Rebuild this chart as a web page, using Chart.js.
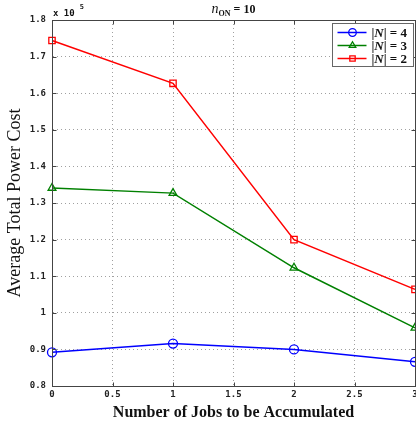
<!DOCTYPE html>
<html><head><meta charset="utf-8">
<script src="https://cdn.jsdelivr.net/npm/chart.js@4/dist/chart.umd.min.js"></script>
<style>html,body{margin:0;padding:0;background:#fff;overflow:hidden;}</style>
</head><body>
<canvas id="c" width="416" height="426" style="width:416px;height:426px;display:block"></canvas>
<script>
const jobs = [0, 1, 2, 3];
const costN4 = [0.892, 0.916, 0.900, 0.866];
const costN3 = [1.341, 1.327, 1.123, 0.959];
const costN2 = [1.744, 1.627, 1.200, 1.064];
const seriesLabels = ['|N| = 4', '|N| = 3', '|N| = 2'];
const seriesColors = ['#0000ff', '#008000', '#ff0000'];
const seriesMarkers = ['circle', 'triangle', 'rect'];
const xTicks = [0, 0.5, 1, 1.5, 2, 2.5, 3];
const yTicks = [0.8, 0.9, 1.0, 1.1, 1.2, 1.3, 1.4, 1.5, 1.6, 1.7, 1.8];
const titleParts = ['n', 'ON', ' = 10'];
const exponentParts = ['x 10', '5'];
const xTitle = 'Number of Jobs to be Accumulated';
const yTitle = 'Average Total Power Cost';

const seriesValues = [costN4, costN3, costN2];
const datasets = seriesValues.map((vals, i) => ({
  label: seriesLabels[i],
  data: jobs.map((j, k) => ({x: j, y: vals[k]})),
  borderColor: seriesColors[i],
  backgroundColor: 'rgba(0,0,0,0)',
  borderWidth: 1.5,
  pointStyle: seriesMarkers[i],
  pointRadius: 4.5,
  pointBorderWidth: 1.3,
  pointBorderColor: seriesColors[i],
  pointBackgroundColor: 'rgba(0,0,0,0)',
  tension: 0,
  clip: false
}));

const tickFont = {family: '"DejaVu Sans Mono"', size: 9, weight: 'bold'};
const serif = '"Liberation Serif"';

const decor = {
  id: 'decor',
  afterDraw(chart) {
    const {ctx, chartArea: a, scales: {x, y}} = chart;
    ctx.save();
    const L = Math.round(a.left) + 0.5, T = Math.round(a.top) + 0.5;
    const R = Math.round(a.right) + 0.5, B = Math.round(a.bottom) + 0.5;
    ctx.strokeStyle = '#444'; ctx.lineWidth = 1; ctx.setLineDash([]);
    ctx.strokeRect(L, T, R - L, B - T);
    ctx.beginPath();
    xTicks.forEach(v => {
      const px = Math.round(x.getPixelForValue(v)) + 0.5;
      ctx.moveTo(px, B); ctx.lineTo(px, B - 4);
      ctx.moveTo(px, T); ctx.lineTo(px, T + 4);
    });
    yTicks.forEach(v => {
      const py = Math.round(y.getPixelForValue(v)) + 0.5;
      ctx.moveTo(L, py); ctx.lineTo(L + 4, py);
      ctx.moveTo(R, py); ctx.lineTo(R - 4, py);
    });
    ctx.stroke();

    // title n_ON = 10
    ctx.fillStyle = '#111'; ctx.textBaseline = 'alphabetic'; ctx.textAlign = 'left';
    const parts = [
      {t: titleParts[0], f: 'italic 14px ' + serif, dy: 0},
      {t: titleParts[1], f: 'bold 8px ' + serif, dy: 3},
      {t: titleParts[2], f: 'bold 12px ' + serif, dy: 0}
    ];
    let w = 0;
    parts.forEach(p => { ctx.font = p.f; p.w = ctx.measureText(p.t).width; w += p.w; });
    let cx = (a.left + a.right) / 2 - w / 2;
    parts.forEach(p => { ctx.font = p.f; ctx.fillText(p.t, cx, 13 + p.dy); cx += p.w; });

    // exponent x 10^5
    ctx.font = 'bold 9px "DejaVu Sans Mono"';
    ctx.fillText(exponentParts[0], a.left + 1, 16);
    const ew = ctx.measureText(exponentParts[0]).width;
    ctx.font = 'bold 7px "DejaVu Sans Mono"';
    ctx.fillText(exponentParts[1], a.left + ew + 6, 9);

    // legend
    const bx = Math.round(a.right) - 82.5, by = Math.round(a.top) + 3.5, bw = 81, bh = 43;
    ctx.fillStyle = '#fff'; ctx.fillRect(bx, by, bw, bh);
    ctx.strokeStyle = '#666'; ctx.lineWidth = 1; ctx.strokeRect(bx, by, bw, bh);
    chart.data.datasets.forEach((ds, i) => {
      const ry = by + 9 + i * 13;
      ctx.strokeStyle = ds.borderColor; ctx.lineWidth = 1.5;
      ctx.beginPath(); ctx.moveTo(bx + 5, ry); ctx.lineTo(bx + 34, ry); ctx.stroke();
      ctx.fillStyle = 'rgba(0,0,0,0)';
      ctx.strokeStyle = ds.borderColor; ctx.lineWidth = 1.3;
      Chart.helpers.drawPoint(ctx, {pointStyle: ds.pointStyle, radius: 3.8, borderWidth: 1.3, rotation: 0}, bx + 20, ry);
      const lbl = ds.label;
      const segs = [
        {t: lbl.slice(0, 1), f: 'bold 13px ' + serif},
        {t: lbl.slice(1, 2), f: 'italic bold 13px ' + serif},
        {t: lbl.slice(2), f: 'bold 13px ' + serif}
      ];
      let tx = bx + 39;
      ctx.fillStyle = '#111';
      ctx.textBaseline = 'middle';
      segs.forEach(s => { ctx.font = s.f; ctx.fillText(s.t, tx, ry + 1); tx += ctx.measureText(s.t).width; });
    });
    ctx.restore();
  }
};

new Chart(document.getElementById('c'), {
  type: 'line',
  data: {datasets},
  options: {
    responsive: false,
    animation: false,
    devicePixelRatio: 1,
    layout: {autoPadding: false, padding: {top: 20, right: 1, left: 0, bottom: 0}},
    plugins: {legend: {display: false}, tooltip: {enabled: false}, title: {display: false}},
    scales: {
      x: {
        type: 'linear', min: 0, max: 3,
        afterBuildTicks: s => { s.ticks = xTicks.map(v => ({value: v})); },
        afterFit: s => { s.height = 40; s.paddingRight = 0; s.paddingLeft = 0; },
        ticks: {font: tickFont, color: '#222', padding: 3, maxRotation: 0, autoSkip: false,
          callback: v => String(+v.toFixed(1))},
        grid: {color: '#a0a0a0', lineWidth: 1, drawTicks: false},
        border: {display: true, color: '#444', width: 1, dash: [1, 3]},
        title: {display: true, text: xTitle, font: {family: serif, size: 16, weight: 'bold'}, color: '#111', padding: {top: 0, bottom: 4}}
      },
      y: {
        type: 'linear', min: 0.8, max: 1.8,
        afterBuildTicks: s => { s.ticks = yTicks.map(v => ({value: v})); },
        afterFit: s => { s.width = 52; s.paddingTop = 0; s.paddingBottom = 0; },
        ticks: {font: tickFont, color: '#222', padding: 6, autoSkip: false,
          callback: v => String(+v.toFixed(1))},
        grid: {color: '#a0a0a0', lineWidth: 1, drawTicks: false},
        border: {display: true, color: '#444', width: 1, dash: [1, 3]},
        title: {display: true, text: yTitle, font: {family: serif, size: 18}, color: '#111', padding: {top: 4, bottom: 0}}
      }
    }
  },
  plugins: [decor]
});
</script>
</body></html>
